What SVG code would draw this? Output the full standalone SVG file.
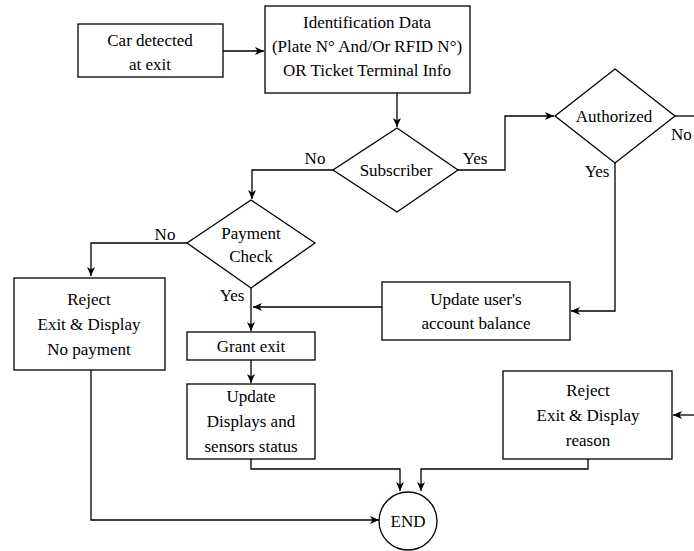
<svg xmlns="http://www.w3.org/2000/svg" width="694" height="551" viewBox="0 0 694 551">
<style>
.box{fill:#fff;stroke:#000;stroke-width:1.3}
.t{font-family:'Liberation Serif','Times New Roman','DejaVu Serif',serif;font-size:17px;fill:#000;text-anchor:middle}
.c{fill:none;stroke:#000;stroke-width:1.3}
</style>
<defs>
<marker id="a" markerWidth="10" markerHeight="10" refX="9" refY="5" orient="auto" markerUnits="userSpaceOnUse">
<path d="M0,1 L9,5 L0,9 L2.5,5 Z" fill="#000"/>
</marker>
</defs>
<rect width="694" height="551" fill="#fff"/>
<g id="connectors">
<path class="c" d="M223,51 L264,51" marker-end="url(#a)"/>
<path class="c" d="M397,93 L397,127" marker-end="url(#a)"/>
<path class="c" d="M333,170 L252,170 L252,199" marker-end="url(#a)"/>
<path class="c" d="M458,170 L505,170 L505,116 L554,116" marker-end="url(#a)"/>
<path class="c" d="M675,116 L694,116"/>
<path class="c" d="M187,243 L91,243 L91,276" marker-end="url(#a)"/>
<path class="c" d="M251,288 L251,331" marker-end="url(#a)"/>
<path class="c" d="M382,307 L253,307" marker-end="url(#a)"/>
<path class="c" d="M615,163 L615,311 L571,311" marker-end="url(#a)"/>
<path class="c" d="M251,360 L251,383" marker-end="url(#a)"/>
<path class="c" d="M251,459 L251,469 L400,469 L400,491" marker-end="url(#a)"/>
<path class="c" d="M588,459 L588,469 L421,469 L421,491" marker-end="url(#a)"/>
<path class="c" d="M91,370 L91,520 L379,520" marker-end="url(#a)"/>
<path class="c" d="M694,415 L673,415" marker-end="url(#a)"/>
<text class="t" x="315" y="164">No</text>
<text class="t" x="475" y="164">Yes</text>
<text class="t" x="165" y="240">No</text>
<text class="t" x="232" y="301">Yes</text>
<text class="t" x="597" y="177">Yes</text>
<text class="t" x="671" y="140" style="text-anchor:start">No</text>
</g>
<g id="car">
<rect class="box" x="78" y="24" width="145" height="53"/>
<text class="t" x="150" y="46">Car detected</text>
<text class="t" x="150" y="70">at exit</text>
</g>
<g id="ident">
<rect class="box" x="265" y="6" width="205" height="87"/>
<text class="t" x="367" y="28">Identification Data</text>
<text class="t" x="367" y="52">(Plate N° And/Or RFID N°)</text>
<text class="t" x="367" y="76">OR Ticket Terminal Info</text>
</g>
<g id="subscriber">
<polygon class="box" points="397,128 458,170 397,212 333,170"/>
<text class="t" x="396" y="176">Subscriber</text>
</g>
<g id="authorized">
<polygon class="box" points="615,69 675,116 615,163 555,116"/>
<text class="t" x="614" y="122">Authorized</text>
</g>
<g id="payment">
<polygon class="box" points="251,200 315,243 251,288 187,243"/>
<text class="t" x="251" y="239">Payment</text>
<text class="t" x="251" y="262">Check</text>
</g>
<g id="rejectpay">
<rect class="box" x="14" y="278" width="151" height="92"/>
<text class="t" x="89" y="305">Reject</text>
<text class="t" x="89" y="330">Exit &amp; Display</text>
<text class="t" x="89" y="355">No payment</text>
</g>
<g id="updbal">
<rect class="box" x="382" y="282" width="188" height="58"/>
<text class="t" x="476" y="305">Update user's</text>
<text class="t" x="476" y="329">account balance</text>
</g>
<g id="grant">
<rect class="box" x="187" y="332" width="128" height="28"/>
<text class="t" x="251" y="352">Grant exit</text>
</g>
<g id="upddisp">
<rect class="box" x="187" y="384" width="128" height="75"/>
<text class="t" x="251" y="402">Update</text>
<text class="t" x="251" y="427">Displays and</text>
<text class="t" x="251" y="452">sensors status</text>
</g>
<g id="rejectreason">
<rect class="box" x="503" y="371" width="169" height="88"/>
<text class="t" x="588" y="396">Reject</text>
<text class="t" x="588" y="421">Exit &amp; Display</text>
<text class="t" x="588" y="446">reason</text>
</g>
<g id="end">
<circle class="box" cx="408" cy="521" r="29"/>
<text class="t" x="408" y="527">END</text>
</g>
</svg>
